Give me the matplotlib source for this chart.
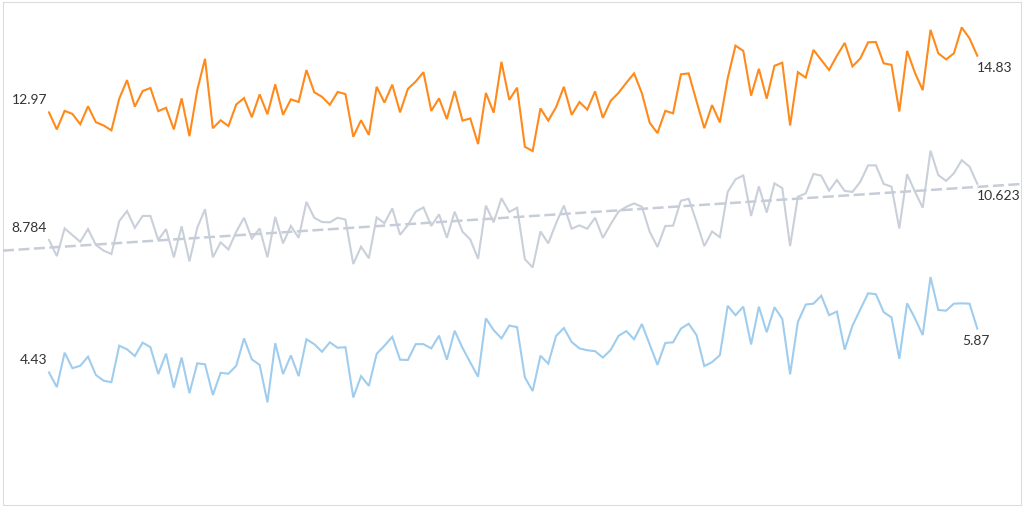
import numpy as np
import matplotlib
matplotlib.use("Agg")
import matplotlib.pyplot as plt

# ---- data -------------------------------------------------------------
orange = [12.97, 12.41, 13.02, 12.92, 12.58, 13.17, 12.65, 12.54, 12.38, 13.42,
          14.03, 13.16, 13.67, 13.77, 13.01, 13.12, 12.41, 13.43, 12.19, 13.70,
          14.73, 12.45, 12.71, 12.52, 13.23, 13.44, 12.81, 13.56, 12.91, 13.89,
          12.89, 13.40, 13.31, 14.36, 13.63, 13.48, 13.22, 13.64, 13.57, 12.17,
          12.71, 12.23, 13.81, 13.29, 13.88, 12.97, 13.74, 13.98, 14.29, 13.02,
          13.43, 12.75, 13.67, 12.70, 12.77, 11.93, 13.61, 12.96, 14.63, 13.38,
          13.78, 11.84, 11.70, 13.10, 12.70, 13.14, 13.81, 12.89, 13.31, 13.06,
          13.66, 12.79, 13.35, 13.61, 13.94, 14.25, 13.60, 12.63, 12.29, 13.02,
          12.94, 14.22, 14.25, 13.34, 12.45, 13.21, 12.64, 14.09, 15.16, 14.99,
          13.52, 14.40, 13.42, 14.50, 14.60, 12.54, 14.29, 14.11, 15.02, 14.69,
          14.36, 14.83, 15.25, 14.48, 14.74, 15.27, 15.28, 14.58, 14.53, 13.00,
          14.99, 14.27, 13.70, 15.68, 14.91, 14.71, 14.91, 15.76, 15.40, 14.83]

grey = [8.784, 8.25, 9.16, 8.94, 8.72, 9.14, 8.62, 8.43, 8.32, 9.40,
        9.73, 9.18, 9.57, 9.57, 8.78, 9.14, 8.21, 9.23, 8.08, 9.18,
        9.79, 8.21, 8.70, 8.47, 9.05, 9.51, 8.83, 9.16, 8.21, 9.54,
        8.67, 9.24, 8.85, 10.03, 9.51, 9.37, 9.36, 9.51, 9.45, 7.99,
        8.56, 8.18, 9.52, 9.33, 9.82, 8.95, 9.27, 9.71, 9.85, 9.24,
        9.62, 8.85, 9.71, 9.05, 8.80, 8.16, 9.91, 9.36, 10.15, 9.70,
        9.84, 8.15, 7.88, 9.06, 8.67, 9.33, 9.91, 9.15, 9.26, 9.15,
        9.51, 8.85, 9.30, 9.71, 9.87, 9.98, 9.87, 9.05, 8.55, 9.24,
        9.25, 10.07, 10.13, 9.38, 8.58, 9.06, 8.87, 10.36, 10.77, 10.90,
        9.57, 10.54, 9.68, 10.64, 10.48, 8.58, 10.20, 10.31, 10.95, 10.89,
        10.40, 10.75, 10.39, 10.36, 10.69, 11.23, 11.23, 10.62, 10.53, 9.16,
        10.94, 10.37, 9.84, 11.71, 10.91, 10.72, 10.97, 11.40, 11.19, 10.623]

blue = [4.43, 3.95, 5.08, 4.57, 4.65, 4.95, 4.35, 4.16, 4.11, 5.31,
        5.19, 4.97, 5.41, 5.26, 4.38, 5.05, 3.93, 4.92, 3.75, 4.73,
        4.70, 3.69, 4.42, 4.39, 4.65, 5.55, 4.86, 4.68, 3.45, 5.39,
        4.38, 4.99, 4.31, 5.52, 5.36, 5.11, 5.42, 5.24, 5.26, 3.61,
        4.31, 3.99, 5.04, 5.31, 5.60, 4.85, 4.84, 5.36, 5.36, 5.22,
        5.64, 4.85, 5.80, 5.24, 4.76, 4.29, 6.21, 5.82, 5.55, 5.97,
        5.92, 4.27, 3.82, 4.98, 4.72, 5.63, 5.89, 5.43, 5.22, 5.16,
        5.13, 4.92, 5.17, 5.63, 5.79, 5.52, 6.02, 5.35, 4.68, 5.40,
        5.42, 5.87, 6.03, 5.66, 4.64, 4.77, 5.00, 6.62, 6.31, 6.59,
        5.35, 6.59, 5.75, 6.57, 6.19, 4.37, 6.09, 6.66, 6.69, 6.95,
        6.31, 6.43, 5.18, 5.97, 6.50, 7.03, 7.00, 6.41, 6.24, 4.88,
        6.70, 6.21, 5.66, 7.56, 6.48, 6.46, 6.69, 6.70, 6.69, 5.87]

start_labels = ["12.97", "8.784", "4.43"]
end_labels = ["14.83", "10.623", "5.87"]

# ---- style ------------------------------------------------------------
C_ORANGE = "#ff8a1c"
C_GREY = "#c9d0da"
C_BLUE = "#a0cdee"
C_TREND = "#c6cdd8"
C_TEXT = "#333333"
FONT = ["Lato", "DejaVu Sans"]

W, H = 1024, 507
fig = plt.figure(figsize=(W / 100, H / 100), dpi=100)
ax = fig.add_axes([3 / W, 2 / H, 1018 / W, 503 / H])

x = np.arange(len(orange))
series = [(orange, C_ORANGE), (grey, C_GREY), (blue, C_BLUE)]
for vals, col in series:
    ax.plot(x, vals, color=col, lw=1.5, solid_joinstyle="miter", zorder=2)

# linear trend for the grey series
m, b = np.polyfit(x, grey, 1)
ax.axline((0, b), slope=m, color=C_TREND, lw=1.8, dashes=(4.4, 1.8), zorder=3)

end_ha = ["left", "left", "center"]
for (vals, col), sl, el, ha in zip(series, start_labels, end_labels, end_ha):
    ax.annotate(sl, (x[0], vals[0]), xytext=(-2, 12), textcoords="offset pixels",
                ha="right", va="center", fontsize=10, color=C_TEXT, family=FONT)
    ax.annotate(el, (x[-1], vals[-1]), xytext=(0 if ha == "left" else -1, -12),
                textcoords="offset pixels", ha=ha, va="center",
                fontsize=10, color=C_TEXT, family=FONT)

ax.set_xlim(-5.9, 124.6)
ax.set_ylim(0.079, 16.594)
ax.set_xticks([])
ax.set_yticks([])
for s in ax.spines.values():
    s.set_color("#dcdcdc")
    s.set_linewidth(0.8)

fig.savefig("out.png", dpi=100)
